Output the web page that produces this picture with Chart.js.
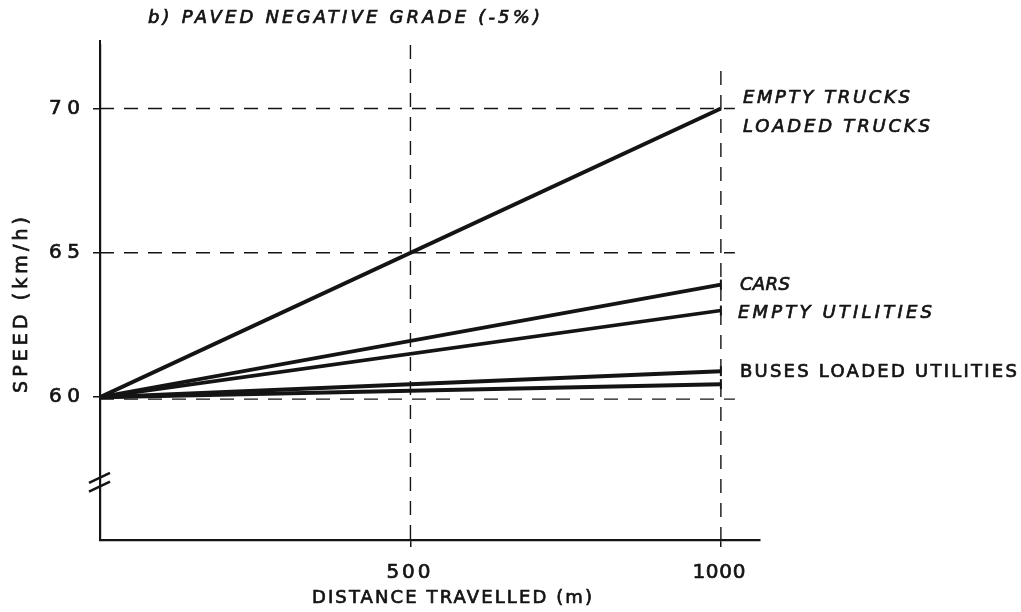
<!DOCTYPE html>
<html>
<head>
<meta charset="utf-8">
<script src="https://cdn.jsdelivr.net/npm/chart.js@4/dist/chart.umd.min.js"></script>
<style>
  html, body { margin: 0; padding: 0; background: #ffffff; }
  #wrap { width: 1021px; height: 612px; position: relative; }
</style>
</head>
<body>
<div id="wrap"><canvas id="c" width="1021" height="612"></canvas></div>
<script>
// Distance travelled (m) at the start and end of each speed line
const distances = [0, 1000];

// Speed (km/h) on a paved -5% grade
const trucks          = [60, 70];
const cars            = [60, 63.9];
const emptyUtilities  = [60, 63];
const buses           = [60, 60.9];
const loadedUtilities = [60, 60.45];

// Axis ticks
const xTicks = [500, 1000];
const yTicks = [60, 65, 70];

const INK = '#141414';
const FONT = '"DejaVu Sans", "Liberation Sans", sans-serif';

function toPoints(values) {
  return distances.map((d, i) => ({ x: d, y: values[i] }));
}

// Text spread out to a given width, imitating stencil lettering
function spacedText(ctx, text, left, y, width, size, italic) {
  ctx.save();
  ctx.font = (italic ? 'italic ' : '') + size + 'px ' + FONT;
  ctx.letterSpacing = '0px';
  const w0 = ctx.measureText(text).width;
  const gap = text.length > 1 ? (width - w0) / (text.length - 1) : 0;
  ctx.letterSpacing = gap + 'px';
  ctx.fillStyle = INK;
  ctx.strokeStyle = INK;
  ctx.lineWidth = 0.7;
  ctx.textAlign = 'left';
  ctx.textBaseline = 'middle';
  ctx.fillText(text, left, y);
  ctx.strokeText(text, left, y);
  ctx.restore();
}

function dashedLine(ctx, x1, y1, x2, y2) {
  ctx.save();
  ctx.strokeStyle = INK;
  ctx.lineWidth = 1.4;
  ctx.setLineDash([14, 10]);
  ctx.beginPath();
  ctx.moveTo(x1, y1);
  ctx.lineTo(x2, y2);
  ctx.stroke();
  ctx.restore();
}

// Series end labels: [text, end value, vertical offset, x offset, width, italic]
const endLabels = [
  ['EMPTY TRUCKS', trucks[1], -10, 22, 167, true],
  ['LOADED TRUCKS', trucks[1], 19, 22, 187, true],
  ['CARS', cars[1], 1, 19, 50, true],
  ['EMPTY UTILITIES', emptyUtilities[1], 3, 17, 194, true],
  ['BUSES LOADED UTILITIES', buses[1], 1, 19, 277, false]
];

const paperPlugin = {
  id: 'paper',
  beforeDatasetsDraw(chart) {
    const ctx = chart.ctx;
    const xs = chart.scales.x, ys = chart.scales.y;
    const area = chart.chartArea;
    const xEnd = xs.getPixelForValue(1000) + 14;
    // horizontal reference lines
    yTicks.forEach(v => {
      const py = ys.getPixelForValue(v) + (v === 60 ? 2 : 0);
      dashedLine(ctx, area.left, py, xEnd, py);
    });
    // vertical reference lines
    const x500 = xs.getPixelForValue(500);
    dashedLine(ctx, x500, area.top, x500, area.bottom);
    const x1000 = xs.getPixelForValue(1000);
    dashedLine(ctx, x1000, ys.getPixelForValue(71.3), x1000, area.bottom);
    // y axis runs a little above the plotting area
    ctx.save();
    ctx.strokeStyle = INK;
    ctx.lineWidth = 2;
    ctx.beginPath();
    ctx.moveTo(area.left, area.top - 5);
    ctx.lineTo(area.left, area.top + 1);
    ctx.stroke();
    ctx.restore();
  },
  afterDatasetsDraw(chart) {
    const ctx = chart.ctx;
    const xs = chart.scales.x, ys = chart.scales.y;
    const area = chart.chartArea;

    // axis break marks
    ctx.save();
    ctx.strokeStyle = INK;
    ctx.lineWidth = 2.5;
    [57.2, 56.9].forEach(v => {
      const py = ys.getPixelForValue(v);
      ctx.beginPath();
      ctx.moveTo(area.left - 11, py + 5);
      ctx.lineTo(area.left + 10, py - 5);
      ctx.stroke();
    });
    ctx.restore();

    // y tick labels
    yTicks.forEach(v => {
      spacedText(ctx, String(v), area.left - 51, ys.getPixelForValue(v), 31, 20, false);
    });
    // x tick labels
    xTicks.forEach(v => {
      const w = String(v).length === 3 ? 44 : 53;
      spacedText(ctx, String(v), xs.getPixelForValue(v) - w / 2 - 2, area.bottom + 33, w, 20, false);
    });

    // series labels at the right
    const xEndPx = xs.getPixelForValue(1000);
    endLabels.forEach(([text, val, dy, dx, w, it]) => {
      spacedText(ctx, text, xEndPx + dx, ys.getPixelForValue(val) + dy, w, 18, it);
    });

    // titles
    spacedText(ctx, 'b) PAVED NEGATIVE GRADE (-5%)', 148, 18, 392, 18, true);
    spacedText(ctx, 'DISTANCE TRAVELLED (m)', 312, 598, 280, 18, false);
    ctx.save();
    ctx.translate(22, 305);
    ctx.rotate(-Math.PI / 2);
    spacedText(ctx, 'SPEED (km/h)', -88, 0, 176, 19, false);
    ctx.restore();
  }
};

function lineSet(label, values, width, cap) {
  return {
    label: label,
    data: toPoints(values),
    borderColor: INK,
    backgroundColor: INK,
    borderWidth: width,
    tension: 0,
    fill: false,
    pointStyle: 'line',
    rotation: 90,
    pointRadius: cap ? [0, 5] : 0,
    pointBorderWidth: 2,
    pointBorderColor: INK
  };
}

new Chart(document.getElementById('c'), {
  type: 'line',
  data: {
    datasets: [
      lineSet('Empty / loaded trucks', trucks, 4, false),
      lineSet('Cars', cars, 3.8, true),
      lineSet('Empty utilities', emptyUtilities, 3.6, true),
      lineSet('Buses', buses, 4, true),
      lineSet('Loaded utilities', loadedUtilities, 4, true)
    ]
  },
  options: {
    responsive: false,
    animation: false,
    events: [],
    layout: { padding: { top: 45, right: 261, left: 0, bottom: 0 } },
    plugins: {
      legend: { display: false },
      title: { display: false },
      tooltip: { enabled: false }
    },
    scales: {
      x: {
        type: 'linear',
        min: 0,
        max: 1063,
        afterBuildTicks: s => { s.ticks = xTicks.map(v => ({ value: v })); },
        afterFit: s => { s.height = 72; },
        border: { display: true, color: INK, width: 2.2 },
        grid: { drawOnChartArea: false, drawTicks: true, tickLength: 7, color: INK, lineWidth: 1.5 },
        ticks: { display: false }
      },
      y: {
        type: 'linear',
        min: 55.05,
        max: 72.2,
        afterBuildTicks: s => { s.ticks = yTicks.map(v => ({ value: v })); },
        afterFit: s => { s.width = 100; },
        border: { display: true, color: INK, width: 2.2 },
        grid: { drawOnChartArea: false, drawTicks: true, tickLength: 7, color: INK, lineWidth: 1.5 },
        ticks: { display: false }
      }
    }
  },
  plugins: [paperPlugin]
});
</script>
</body>
</html>
